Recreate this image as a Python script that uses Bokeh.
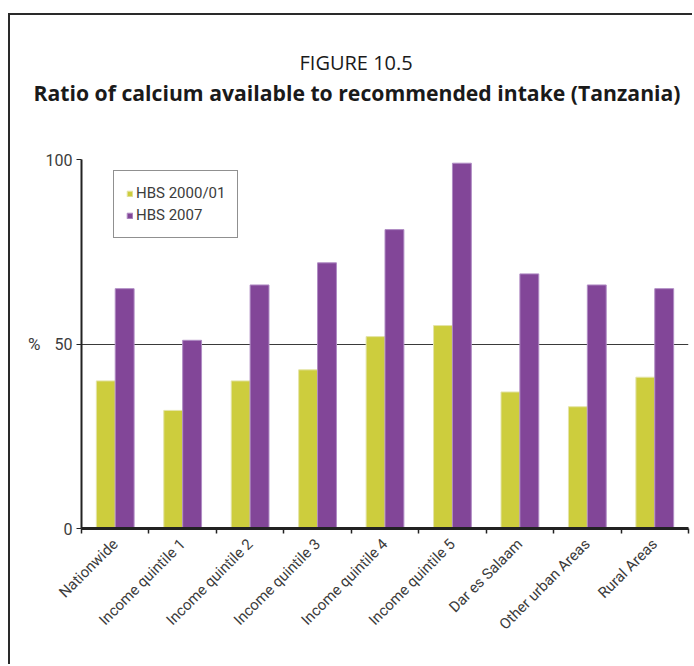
import math
from bokeh.plotting import figure
from bokeh.models import ColumnDataSource, FixedTicker, Title, Legend, LegendItem
from bokeh.transform import dodge
from bokeh.embed import file_html
from bokeh.resources import INLINE

categories = ["Nationwide", "Income quintile 1", "Income quintile 2", "Income quintile 3",
              "Income quintile 4", "Income quintile 5", "Dar es Salaam",
              "Other urban Areas", "Rural Areas"]
hbs_2000_01 = [40, 32, 40, 43, 52, 55, 37, 33, 41]
hbs_2007 = [65, 51, 66, 72, 81, 99, 69, 66, 65]
y_ticks = [0, 50, 100]

FONT = "Roboto"
TFONT = "Open Sans"
TXT = "#3c3c3c"

xc = [i + 0.5 for i in range(len(categories))]
src = ColumnDataSource(dict(x=xc, a=hbs_2000_01, b=hbs_2007))

p = figure(width=684, height=651, x_range=(0, len(categories)), y_range=(0, 100),
           output_backend="svg", toolbar_location=None,
           min_border_left=71, min_border_right=6, min_border_top=144, min_border_bottom=138)
p.styles = {"border-left": "2px solid #2a2a2a", "border-top": "2px solid #2a2a2a",
            "margin-top": "13px", "margin-left": "8px"}

r1 = p.vbar(x=dodge("x", -0.14), top="a", width=0.28, source=src,
            fill_color="#CDCD3D", line_color="#E4E4A8", line_width=1)
r2 = p.vbar(x=dodge("x", 0.14), top="b", width=0.28, source=src,
            fill_color="#824698", line_color="#B08CC4", line_width=1)

p.outline_line_color = None
p.background_fill_color = "white"
p.border_fill_color = "white"

# titles: stacked outward from the frame (spacer, bold title, then p.title)
p.title.text = "FIGURE 10.5"
p.title.align = "left"
p.title.offset = 218
p.title.text_font = TFONT
p.title.text_font_size = "20px"
p.title.text_font_style = "normal"
p.title.text_color = "#1a1a1a"
p.title.standoff = 0
p.add_layout(Title(text=" ", text_font_size="1px", standoff=50), "above")
p.add_layout(Title(text="Ratio of calcium available to recommended intake (Tanzania)",
                   align="left", offset=-48, text_font=TFONT, text_font_size="21.2px",
                   text_font_style="bold", text_color="#1a1a1a", standoff=0), "above")

# y axis
p.yaxis.ticker = FixedTicker(ticks=y_ticks)
p.yaxis.major_tick_out = 5
p.yaxis.major_tick_in = 0
p.yaxis.minor_tick_out = 0
p.yaxis.minor_tick_in = 0
p.yaxis.axis_line_width = 2
p.yaxis.axis_line_color = "#222222"
p.yaxis.major_tick_line_color = "#222222"
p.yaxis.major_label_text_font = FONT
p.yaxis.major_label_text_font_size = "16px"
p.yaxis.major_label_text_color = TXT
p.yaxis.major_label_standoff = 4
p.yaxis.axis_label = "%"
p.yaxis.axis_label_orientation = "horizontal"
p.yaxis.axis_label_text_font = FONT
p.yaxis.axis_label_text_font_size = "17px"
p.yaxis.axis_label_text_font_style = "normal"
p.yaxis.axis_label_text_color = TXT
p.yaxis.axis_label_standoff = 2

# x axis
p.xaxis.ticker = FixedTicker(ticks=xc, minor_ticks=list(range(len(categories) + 1)))
p.xaxis.major_label_overrides = {x: c for x, c in zip(xc, categories)}
p.xaxis.major_label_orientation = math.pi / 4
p.xaxis.major_tick_out = 0
p.xaxis.major_tick_in = 0
p.xaxis.minor_tick_out = 5
p.xaxis.minor_tick_in = 0
p.xaxis.minor_tick_line_color = "#222222"
p.xaxis.minor_tick_line_width = 1.5
p.xaxis.axis_line_width = 3
p.xaxis.axis_line_color = "#222222"
p.xaxis.major_label_text_font = FONT
p.xaxis.major_label_text_font_size = "15px"
p.xaxis.major_label_text_color = TXT
p.xaxis.major_label_standoff = 8

p.xgrid.visible = False
p.ygrid.ticker = FixedTicker(ticks=y_ticks)
p.ygrid.grid_line_color = "#3a3a3a"
p.ygrid.grid_line_width = 1

legend = Legend(items=[LegendItem(label="HBS 2000/01", renderers=[r1]),
                       LegendItem(label="HBS 2007", renderers=[r2])],
                location=(32, 290))
legend.border_line_color = "#222222"
legend.border_line_width = 1
legend.padding = 12
legend.margin = 0
legend.spacing = 2
legend.label_height = 20
legend.glyph_height = 7
legend.glyph_width = 7
legend.label_standoff = 3
legend.label_text_font = FONT
legend.label_text_font_size = "15px"
legend.label_text_color = TXT
legend.background_fill_alpha = 1
p.add_layout(legend, "center")

open("out.html", "w").write(file_html(p, INLINE))
